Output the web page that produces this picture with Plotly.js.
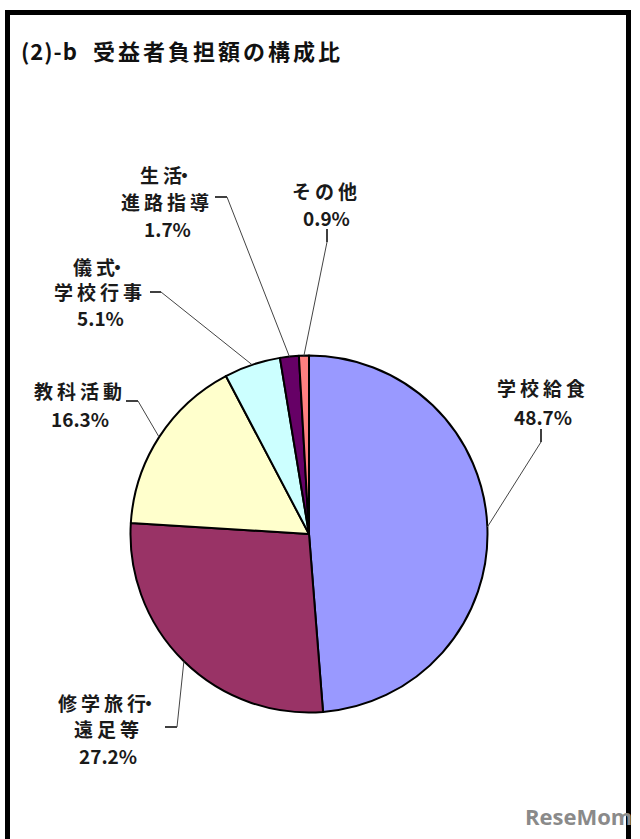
<!DOCTYPE html>
<html>
<head>
<meta charset="utf-8">
<script src="https://cdn.plot.ly/plotly-3.0.1.min.js"></script>
<style>
html,body{margin:0;padding:0;background:#fff;}
#chart{width:640px;height:839px;}
</style>
</head>
<body>
<div id="chart"></div>
<script>
// ---- data ----
const categoryLines = [['学校給食'], ['修学旅行・', '遠足等'], ['教科活動'], ['儀式・', '学校行事'], ['生活・', '進路指導'], ['その他']];
const categories = categoryLines.map(l => l.join(''));
const shares = [48.7, 27.2, 16.3, 5.1, 1.7, 0.9];
const titleHead = '(2)-b';
const titleBody = '受益者負担額の構成比';

// ---- styles / layout constants ----
const W = 640, H = 839;
const sliceColors = ['#9999FF', '#993366', '#FFFFCC', '#CCFFFF', '#660066', '#FF8080'];
const FONT = '"Noto Sans CJK JP", "Noto Sans", sans-serif';
const pieBox = {left: 130.5, right: 487.5, top: 355.5, bottom: 712.5};
// label placement in pixels: text centre x, line centre ys, tick segment
const labelPlace = [
  {cx: 543, ys: [387, 416], tick: [541, 429, 541, 442]},
  {cx: 108, ys: [702, 728, 755], tick: [165, 727, 177, 727]},
  {cx: 80, ys: [390, 418], tick: [126, 401, 138, 401]},
  {cx: 100, ys: [266, 291, 317], tick: [150, 292, 161, 292]},
  {cx: 167, ys: [175, 201, 228], tick: [215, 197, 227, 197]},
  {cx: 326, ys: [191, 217], tick: [327, 229, 327, 242]}
];

const px = x => x / W;
const py = y => 1 - y / H;
const isCJK = s => /[\u3000-\u9fff\uff00-\uffef]/.test(s);
function spaced(s, ls) {
  const m = s.match(/^(.*?)(・?)$/);
  const body = m[1], dot = m[2];
  if (!dot) return '<span style="letter-spacing:' + ls + 'px">' + body + '</span>';
  // keep the middle dot tight against the preceding glyph
  return '<span style="letter-spacing:' + ls + 'px">' + body.slice(0, -1) + '</span>' +
    '<span style="letter-spacing:-7px">' + body.slice(-1) + '</span>' + dot;
}

const cx = (pieBox.left + pieBox.right) / 2;
const cy = (pieBox.top + pieBox.bottom) / 2;
const R = (pieBox.right - pieBox.left) / 2;
const total = shares.reduce((a, b) => a + b, 0);

const annotations = [];
const shapes = [];
let cum = 0;
shares.forEach((v, i) => {
  const frac = (cum + v / 2) / total;
  cum += v;
  const th = 2 * Math.PI * frac;
  const ex = cx + R * Math.sin(th);
  const ey = cy - R * Math.cos(th);
  const lp = labelPlace[i];
  const lines = categoryLines[i].concat([v.toFixed(1) + '%']);
  lines.forEach((t, k) => {
    annotations.push({
      xref: 'paper', yref: 'paper', x: px(lp.cx), y: py(lp.ys[k]),
      xanchor: 'center', yanchor: 'middle', showarrow: false,
      text: isCJK(t) ? spaced(t, 4) : t,
      font: {family: FONT, size: 19, color: '#1a1a1a', weight: 'bold'}
    });
  });
  const t = lp.tick;
  shapes.push({type: 'line', xref: 'paper', yref: 'paper', x0: px(t[0]), y0: py(t[1]), x1: px(t[2]), y1: py(t[3]),
    line: {color: '#000', width: 1.5}});
  shapes.push({type: 'line', xref: 'paper', yref: 'paper', x0: px(t[2]), y0: py(t[3]), x1: px(ex), y1: py(ey),
    line: {color: '#444', width: 1}});
});

// frame
const fl = 7.5, ft = 12.5, fr = 628.5;
shapes.push({type: 'path', xref: 'paper', yref: 'paper',
  path: 'M' + px(fl) + ',' + py(H + 10) + ' L' + px(fl) + ',' + py(ft) + ' L' + px(fr) + ',' + py(ft) + ' L' + px(fr) + ',' + py(H + 10),
  line: {color: '#000', width: 5}});

// watermark
annotations.push({xref: 'paper', yref: 'paper', x: px(578), y: py(816), xanchor: 'center', yanchor: 'middle',
  showarrow: false, text: 'ReseMom', font: {family: '"Open Sans", sans-serif', size: 22, color: '#8a8a8a', weight: 'bold'}});

const trace = {
  type: 'pie',
  labels: categories,
  values: shares,
  sort: false,
  direction: 'clockwise',
  rotation: 0,
  textinfo: 'none',
  hoverinfo: 'skip',
  marker: {colors: sliceColors, line: {color: '#000', width: 2}},
  domain: {x: [px(pieBox.left), px(pieBox.right)], y: [py(pieBox.bottom), py(pieBox.top)]},
  showlegend: false
};

const layout = {
  width: W, height: H,
  margin: {l: 0, r: 0, t: 0, b: 0},
  paper_bgcolor: '#fff',
  showlegend: false,
  title: {
    text: '<span style="letter-spacing:1px">' + titleHead + '</span>\u00a0\u00a0\u00a0<span style="letter-spacing:3px">' + titleBody + '</span>',
    x: px(21), xanchor: 'left', xref: 'paper',
    y: py(52), yanchor: 'middle', yref: 'paper',
    font: {family: FONT, size: 22, color: '#111', weight: 'bold'}
  },
  annotations: annotations,
  shapes: shapes
};

Plotly.newPlot('chart', [trace], layout, {staticPlot: true, displayModeBar: false});
</script>
</body>
</html>
